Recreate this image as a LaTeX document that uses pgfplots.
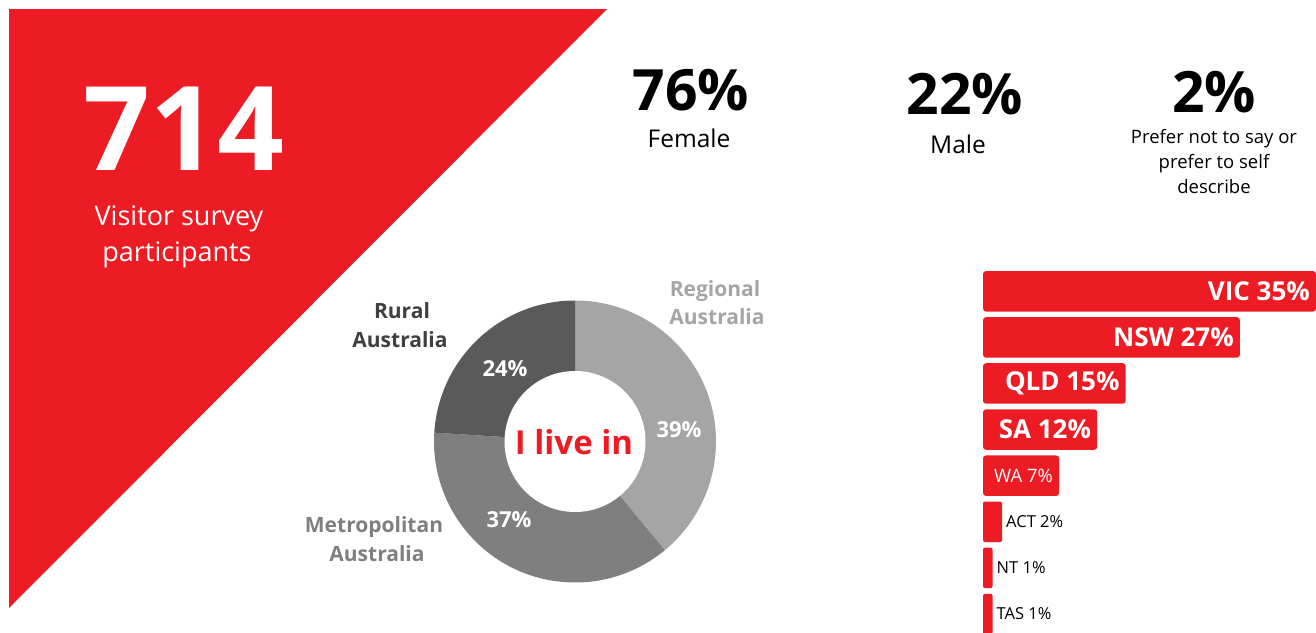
\documentclass[border=0pt]{standalone}
\usepackage{fontspec}
\setmainfont{Open Sans}
\usepackage{pgfplots}
\usepackage{pgfplotstable}
\pgfplotsset{compat=1.18}
\definecolor{myred}{HTML}{ED1C24}
\definecolor{gA}{HTML}{A5A5A5}
\definecolor{gB}{HTML}{7F7F7F}
\definecolor{gC}{HTML}{5A5A5A}
\definecolor{gD}{HTML}{3F3F3F}

% state bars (length in %, row position)
\pgfplotstableread{
y len label
0 35 {VIC 35\%}
1 27 {NSW 27\%}
2 15 {QLD 15\%}
3 12 {SA 12\%}
}\bigbars
\pgfplotstableread{
y len label
4 8 {WA 7\%}
}\midbars
\pgfplotstableread{
y len label
5 2 {ACT 2\%}
6 1 {NT 1\%}
7 1 {TAS 1\%}
}\smallbars
% donut: I live in
\pgfplotstableread{
label value
Regional 39
Metropolitan 37
Rural 24
}\donutdata
\pgfplotstablegetelem{0}{value}\of\donutdata\let\vA\pgfplotsretval
\pgfplotstablegetelem{1}{value}\of\donutdata\let\vB\pgfplotsretval
\pgfplotstablegetelem{2}{value}\of\donutdata\let\vC\pgfplotsretval
\pgfmathsetmacro\aA{90}
\pgfmathsetmacro\aB{\aA-3.6*\vA}
\pgfmathsetmacro\aC{\aB-3.6*\vB}
\pgfmathsetmacro\aD{\aC-3.6*\vC}

\begin{document}%
\begin{tikzpicture}
% ---------- canvas (pixel coordinates, y downwards) ----------
\begin{axis}[name=canvas, at={(0,0)}, anchor=south west, scale only axis,
  width=1316pt, height=632pt, xmin=0, xmax=1316, ymin=0, ymax=632,
  y dir=reverse, hide axis, clip=false]
\path (axis cs:0,0) rectangle (axis cs:1316,632);
\addplot[fill=myred, draw=none] coordinates {(9,9) (607,9) (9,608) (9,9)};
\node[anchor=base, text=white, font=\fontsize{117}{135}\selectfont\bfseries] at (axis cs:184,170) {714};
\node[anchor=base, text=white, font=\fontsize{27}{32}\selectfont] at (axis cs:179,225) {Visitor survey};
\node[anchor=base, text=white, font=\fontsize{27}{32}\selectfont] at (axis cs:177,261) {participants};
% gender
\node[anchor=base, font=\fontsize{57}{66}\selectfont\bfseries] at (axis cs:691,110) {76\%};
\node[anchor=base, font=\fontsize{24.5}{28}\selectfont] at (axis cs:689,147) {Female};
\node[anchor=base, font=\fontsize{57}{66}\selectfont\bfseries] at (axis cs:965,114) {22\%};
\node[anchor=base, font=\fontsize{24.5}{28}\selectfont] at (axis cs:958,153) {Male};
\node[anchor=base, font=\fontsize{57}{66}\selectfont\bfseries] at (axis cs:1214,112) {2\%};
\node[anchor=base, font=\fontsize{18.5}{22}\selectfont] at (axis cs:1214,143) {Prefer not to say or};
\node[anchor=base, font=\fontsize{18.5}{22}\selectfont] at (axis cs:1214,168) {prefer to self};
\node[anchor=base, font=\fontsize{18.5}{22}\selectfont] at (axis cs:1214,193) {describe};
% donut outer labels
\node[anchor=base, text=gD, font=\fontsize{21}{24}\selectfont\bfseries] at (axis cs:402,318) {Rural};
\node[anchor=base, text=gD, font=\fontsize{21}{24}\selectfont\bfseries] at (axis cs:400,347) {Australia};
\node[anchor=base, text=gA, font=\fontsize{21}{24}\selectfont\bfseries] at (axis cs:715,296) {Regional};
\node[anchor=base, text=gA, font=\fontsize{21}{24}\selectfont\bfseries] at (axis cs:717,324) {Australia};
\node[anchor=base, text=gB, font=\fontsize{21}{24}\selectfont\bfseries] at (axis cs:374,532) {Metropolitan};
\node[anchor=base, text=gB, font=\fontsize{21}{24}\selectfont\bfseries] at (axis cs:377,561) {Australia};
\coordinate (dc) at (axis cs:575,441.5);
\coordinate (bc) at (axis cs:983,271);
\end{axis}
% ---------- donut ----------
\begin{axis}[at={(dc)}, anchor=center, scale only axis, width=300pt, height=300pt,
  xmin=-150, xmax=150, ymin=-150, ymax=150, hide axis, clip=false]
\fill[gA] (axis cs:0,0) -- ++(\aA:141pt) arc[start angle=\aA, end angle=\aB, radius=141pt] -- cycle;
\fill[gB] (axis cs:0,0) -- ++(\aB:141pt) arc[start angle=\aB, end angle=\aC, radius=141pt] -- cycle;
\fill[gC] (axis cs:0,0) -- ++(\aC:141pt) arc[start angle=\aC, end angle=\aD, radius=141pt] -- cycle;
\fill[white] (axis cs:0,0) circle[radius=70.5pt];
\node[text=white, font=\fontsize{22}{25}\selectfont\bfseries] at (axis cs:104,11.5) {39\%};
\node[text=white, font=\fontsize{22}{25}\selectfont\bfseries] at (axis cs:-66,-78.5) {37\%};
\node[text=white, font=\fontsize{22}{25}\selectfont\bfseries] at (axis cs:-70,72.5) {24\%};
\node[anchor=base, text=myred, font=\fontsize{33}{38}\selectfont\bfseries] at (axis cs:-1,-12.5) {I live in};
\end{axis}
% ---------- state bars ----------
\begin{axis}[at={(bc)}, anchor=north west, scale only axis, width=333pt, height=361pt,
  xmin=0, xmax=35, ymin=-0.44, ymax=7.39, y dir=reverse, hide axis,
  xbar, bar width=40.5pt, bar shift=0pt, point meta=explicit symbolic,
  nodes near coords]
\addplot[fill=myred, draw=none, rounded corners=3pt,
  every node near coord/.append style={anchor=east, xshift=-6pt, inner sep=0pt, text=white,
  font=\fontsize{26}{30}\selectfont\bfseries}]
  table[x=len, y=y, meta=label] {\bigbars};
\addplot[fill=myred, draw=none, rounded corners=3pt,
  every node near coord/.append style={anchor=east, xshift=-6pt, inner sep=0pt, text=white,
  font=\fontsize{18.5}{22}\selectfont}]
  table[x=len, y=y, meta=label] {\midbars};
\addplot[fill=myred, draw=none, rounded corners=2pt,
  every node near coord/.append style={anchor=west, xshift=4pt, inner sep=0pt, text=black,
  font=\fontsize{16.5}{19}\selectfont}]
  table[x=len, y=y, meta=label] {\smallbars};
\end{axis}
\end{tikzpicture}%
\end{document}
